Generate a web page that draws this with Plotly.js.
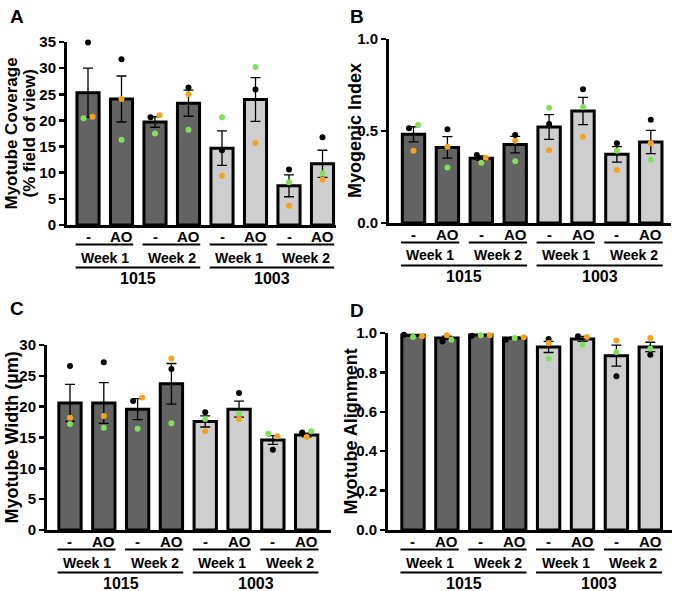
<!DOCTYPE html>
<html>
<head>
<meta charset="utf-8">
<script src="https://cdn.plot.ly/plotly-3.0.1.min.js"></script>
<style>
  body { margin: 0; background: #fff; }
  #chart { width: 675px; height: 591px; }
</style>
</head>
<body>
<div id="chart"></div>
<script>
// x axis groups (8 bars: treatment / week / cell line)
var treatment = ['-', 'AO', '-', 'AO', '-', 'AO', '-', 'AO'];
var weeks = ['Week 1', 'Week 2', 'Week 1', 'Week 2'];
var cellLines = ['1015', '1003'];

// A - myotube coverage (% field of view)
var coverageMean = [25.3, 24.1, 19.7, 23.3, 14.7, 24.0, 7.5, 11.7];
var coverageSem = [4.7, 4.4, 1.0, 2.5, 3.3, 4.2, 2.1, 2.6];
var coverageBlack = [34.9, 31.7, 20.6, 26.3, 14.3, 25.9, 10.6, 16.8];
var coverageGreen = [20.4, 16.3, 17.5, 18.2, 20.6, 30.2, 8.2, 9.9];
var coverageOrange = [20.7, 24.1, 21.0, 25.0, 9.4, 15.7, 3.7, 8.7];

// B - myogenic index
var indexMean = [0.482, 0.411, 0.352, 0.426, 0.522, 0.609, 0.373, 0.440];
var indexSem = [0.041, 0.058, 0.012, 0.045, 0.067, 0.074, 0.042, 0.063];
var indexBlack = [0.515, 0.509, 0.370, 0.478, 0.538, 0.727, 0.433, 0.561];
var indexGreen = [0.533, 0.301, 0.328, 0.335, 0.627, 0.630, 0.393, 0.344];
var indexOrange = [0.393, 0.415, 0.355, 0.447, 0.395, 0.469, 0.288, 0.433];

// C - myotube width (µm)
var widthMean = [20.6, 20.6, 19.6, 23.7, 17.6, 19.6, 14.6, 15.4];
var widthSem = [3.0, 3.3, 1.7, 3.3, 0.9, 1.3, 0.7, 0.3];
var widthBlack = [26.6, 27.2, 20.9, 26.1, 19.1, 22.2, 13.0, 15.8];
var widthGreen = [17.2, 16.6, 16.4, 17.3, 18.0, 18.9, 15.6, 16.0];
var widthOrange = [18.2, 18.5, 21.5, 27.8, 16.0, 18.0, 15.2, 15.1];

// D - myotube alignment
var alignMean = [0.988, 0.975, 0.990, 0.975, 0.929, 0.970, 0.885, 0.929];
var alignSem = [0.003, 0.009, 0.001, 0.004, 0.028, 0.013, 0.053, 0.024];
var alignBlack = [0.991, 0.957, 0.986, 0.966, 0.970, 0.983, 0.780, 0.890];
var alignGreen = [0.980, 0.966, 0.988, 0.975, 0.870, 0.941, 0.903, 0.920];
var alignOrange = [0.983, 0.988, 0.988, 0.978, 0.949, 0.980, 0.962, 0.975];

var W = 675, H = 591;
var repColors = ['#000000', '#80e05c', '#f5a31e'];
var darkBar = '#636363', lightBar = '#cecece';
var FONT = 'Liberation Sans, Arial, sans-serif';

function bold(size) { return {family: FONT, size: size, color: '#000', weight: 'bold'}; }

// box = plot area in px [left, right, top, bottom]
var panels = [
  {letter: 'A', lx: 8, ly: 4, title: ['Myotube Coverage', '(% field of view)'], tx: [11, 29], tsize: 17,
   mean: coverageMean, sem: coverageSem, reps: [coverageBlack, coverageGreen, coverageOrange],
   box: [67, 336, 42, 225], xr: [-0.627, 7.403], yr: [0, 35], dtick: 5, fmt: ''},
  {letter: 'B', lx: 348, ly: 4, title: ['Myogenic Index'], tx: [355], tsize: 18,
   mean: indexMean, sem: indexSem, reps: [indexBlack, indexGreen, indexOrange],
   box: [389, 671, 39, 223], xr: [-0.723, 7.596], yr: [0, 1], dtick: 0.5, fmt: '.1f'},
  {letter: 'C', lx: 8, ly: 296, title: ['Myotube Width (µm)'], tx: [11], tsize: 18,
   mean: widthMean, sem: widthSem, reps: [widthBlack, widthGreen, widthOrange],
   box: [47, 331, 345, 530], xr: [-0.68, 7.72], yr: [0, 30], dtick: 5, fmt: ''},
  {letter: 'D', lx: 348, ly: 298, title: ['Myotube Alignment'], tx: [350], tsize: 18,
   mean: alignMean, sem: alignSem, reps: [alignBlack, alignGreen, alignOrange],
   box: [388, 672, 333, 530], xr: [-0.737, 7.64], yr: [0, 1], dtick: 0.2, fmt: '.1f'}
];

// points closer than ~4px get pushed sideways like in prism
function spread(reps, pxY, pxX) {
  var n = reps.length, m = reps[0].length;
  var step = 9 / pxX;
  var off = reps.map(function() { return new Array(m).fill(0); });
  for (var i = 0; i < m; i++) {
    var cl = [];
    for (var k = 0; k < n; k++) cl[k] = k;
    for (var a = 0; a < n; a++) {
      for (var b = a + 1; b < n; b++) {
        if (Math.abs(reps[a][i] - reps[b][i]) * pxY < 4) {
          var from = cl[b], to = cl[a];
          for (var c = 0; c < n; c++) if (cl[c] == from) cl[c] = to;
        }
      }
    }
    for (var g = 0; g < n; g++) {
      var members = [];
      for (var k2 = 0; k2 < n; k2++) if (cl[k2] == g) members.push(k2);
      members.forEach(function(k3, j) {
        off[k3][i] = (j - (members.length - 1) / 2) * step;
      });
    }
  }
  return off;
}

var data = [];
var layout = {
  width: W, height: H,
  margin: {l: 0, r: 0, t: 0, b: 0},
  paper_bgcolor: '#fff', plot_bgcolor: '#fff',
  font: bold(15),
  showlegend: false,
  bargap: 0,
  annotations: [],
  shapes: []
};

panels.forEach(function(p, pi) {
  var s = pi == 0 ? '' : String(pi + 1);
  var xref = 'x' + s, yref = 'y' + s;
  var idx = p.mean.map(function(v, i) { return i; });
  var pxY = (p.box[3] - p.box[2]) / (p.yr[1] - p.yr[0]);
  var pxX = (p.box[1] - p.box[0]) / (p.xr[1] - p.xr[0]);

  data.push({
    type: 'bar', x: idx, y: p.mean, xaxis: xref, yaxis: yref, width: 0.66,
    marker: {color: idx.map(function(i) { return i < 4 ? darkBar : lightBar; }),
             line: {color: '#000', width: 3}},
    error_y: {type: 'data', array: p.sem, visible: true, color: '#000', thickness: 1.3, width: 5},
    hoverinfo: 'y'
  });

  var off = spread(p.reps, pxY, pxX);
  p.reps.forEach(function(r, k) {
    data.push({
      type: 'scatter', mode: 'markers', xaxis: xref, yaxis: yref,
      x: idx.map(function(i) { return i + off[k][i]; }), y: r,
      marker: {color: repColors[k], size: 6},
      cliponaxis: false, hoverinfo: 'y'
    });
  });

  layout['xaxis' + s] = {
    domain: [p.box[0] / W, p.box[1] / W], range: p.xr, anchor: yref,
    showline: true, linewidth: 3, linecolor: '#000', showticklabels: false,
    ticks: '', showgrid: false, zeroline: false, fixedrange: true
  };
  layout['yaxis' + s] = {
    domain: [1 - p.box[3] / H, 1 - p.box[2] / H], range: p.yr, anchor: xref,
    showline: true, linewidth: 3, linecolor: '#000', ticks: 'outside', ticklen: 5,
    tickwidth: 2.5, tickcolor: '#000', dtick: p.dtick, tick0: 0, tickformat: p.fmt,
    tickfont: bold(15), showgrid: false, zeroline: false, fixedrange: true
  };

  // panel letter
  layout.annotations.push({
    xref: 'paper', yref: 'paper', x: p.lx / W, y: 1 - p.ly / H, xanchor: 'left', yanchor: 'top',
    text: p.letter, showarrow: false, font: bold(19)
  });
  // y titles
  p.title.forEach(function(t, j) {
    layout.annotations.push({
      xref: 'paper', yref: 'paper', x: p.tx[j] / W, y: 1 - (p.box[2] + p.box[3]) / 2 / H,
      xanchor: 'center', yanchor: 'middle', textangle: -90, text: t, showarrow: false,
      font: bold(p.tsize)
    });
  });

  var yAt = function(d) { return 1 - (p.box[3] + d) / H; };
  var hline = function(a, b, d) {
    layout.shapes.push({type: 'line', xref: xref, yref: 'paper', x0: a, x1: b, y0: yAt(d), y1: yAt(d),
                        line: {color: '#000', width: 2}});
  };
  var label = function(x, d, t, size) {
    layout.annotations.push({xref: xref, yref: 'paper', x: x, y: yAt(d), xanchor: 'center', yanchor: 'middle',
                             text: t, showarrow: false, font: bold(size)});
  };
  treatment.forEach(function(t, i) { label(i, 11, t, 15); });
  weeks.forEach(function(w, j) {
    hline(2 * j - 0.37, 2 * j + 1.35, 19.5);
    label(2 * j + 0.5, 32.5, w, 14);
  });
  cellLines.forEach(function(c, j) {
    hline(4 * j - 0.37, 4 * j + 3.35, 42.5);
    label(4 * j + 1.5, 53, c, 16);
  });
});

Plotly.newPlot('chart', data, layout, {displayModeBar: false, staticPlot: true});
</script>
</body>
</html>
